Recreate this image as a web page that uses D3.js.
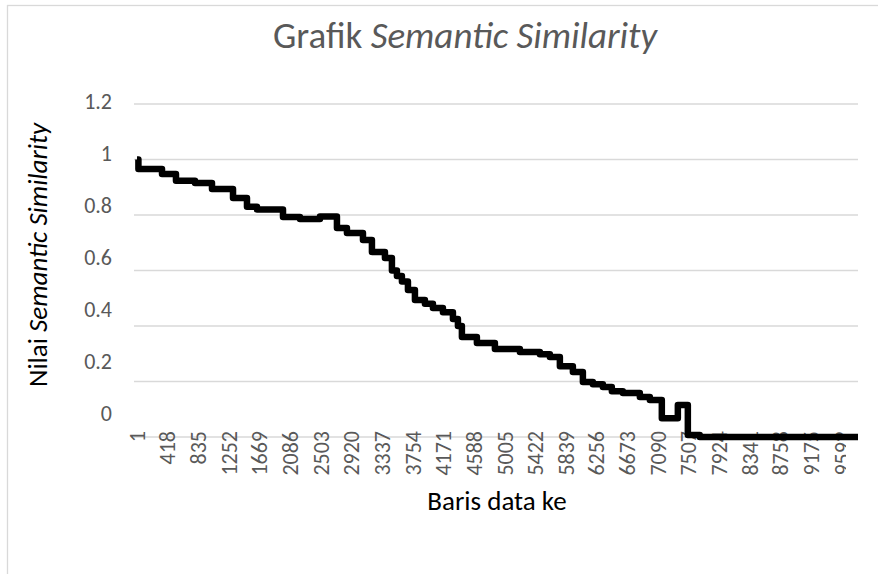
<!DOCTYPE html>
<html>
<head>
<meta charset="utf-8">
<script src="https://cdn.jsdelivr.net/npm/d3@7.9.0/dist/d3.min.js"></script>
<style>
  body { margin: 0; background: #fff; }
  svg { display: block; font-family: Carlito, "Open Sans", sans-serif; }
</style>
</head>
<body>
<svg id="chart" width="878" height="574"></svg>
<script>
// row numbers where the value changes, and the value from that row on
const rows = [1, 20, 341, 531, 790, 1021, 1307, 1497, 1633, 1987, 2218, 2490, 2721, 2857,
  3075, 3197, 3374, 3469, 3537, 3605, 3687, 3782, 3918, 4027, 4163, 4299, 4367, 4421,
  4625, 4870, 5210, 5482, 5618, 5754, 5931, 6067, 6203, 6339, 6461, 6611, 6842, 6978,
  7141, 7359, 7495, 7657, 9810];
const values = [1.0, 0.966, 0.948, 0.923, 0.915, 0.894, 0.861, 0.83, 0.82, 0.793, 0.786, 0.795,
  0.753, 0.735, 0.71, 0.667, 0.645, 0.60, 0.58, 0.56, 0.53, 0.494, 0.48, 0.465, 0.45,
  0.425, 0.40, 0.36, 0.339, 0.317, 0.306, 0.298, 0.288, 0.255, 0.234, 0.198, 0.19, 0.18,
  0.165, 0.159, 0.144, 0.133, 0.068, 0.115, 0.007, 0, 0];
const xTicks = [1, 418, 835, 1252, 1669, 2086, 2503, 2920, 3337, 3754, 4171, 4588, 5005,
  5422, 5839, 6256, 6673, 7090, 7507, 7924, 8341, 8758, 9175, 9592];
const yTicks = [0, 0.2, 0.4, 0.6, 0.8, 1, 1.2];

const data = rows.map((r, i) => ({ row: r, value: values[i] }));

const svg = d3.select('#chart');

// last category label gets cut at the right edge
svg.append('defs').append('clipPath')
    .attr('id', 'labelClip')
    .append('rect')
    .attr('x', 0).attr('y', 0)
    .attr('width', 846).attr('height', 574);

// chart area border (cut off at right/bottom)
svg.append('rect')
    .attr('x', 7.5).attr('y', 5.5)
    .attr('width', 1000).attr('height', 1000)
    .attr('fill', 'none')
    .attr('stroke', '#d9d9d9')
    .attr('stroke-width', 1.3);

const x = d3.scaleLinear().domain([-40, 9810]).range([134, 858]);
const y = d3.scaleLinear().domain([0, 1.2]).range([437, 104]);
// the value labels sit a little off the gridlines in the original
const yLabel = d3.scaleLinear().domain([0, 1.2]).range([413, 101]);

svg.append('g')
    .selectAll('line')
    .data(yTicks)
    .join('line')
    .attr('x1', 134).attr('x2', 858)
    .attr('y1', d => y(d)).attr('y2', d => y(d))
    .attr('stroke', '#d9d9d9')
    .attr('stroke-width', 1.3);

svg.append('g')
    .selectAll('text')
    .data(yTicks)
    .join('text')
    .attr('x', 112)
    .attr('y', d => yLabel(d))
    .attr('dy', '0.35em')
    .attr('text-anchor', 'end')
    .attr('fill', '#595959')
    .attr('font-size', 22)
    .text(d => d);

svg.append('g')
    .attr('clip-path', 'url(#labelClip)')
    .selectAll('text')
    .data(xTicks)
    .join('text')
    .attr('transform', d => `translate(${x(d)},431) rotate(-90)`)
    .attr('dy', '0.35em')
    .attr('text-anchor', 'end')
    .attr('fill', '#595959')
    .attr('font-size', 22)
    .text(d => d);

const line = d3.line()
    .x(d => x(d.row))
    .y(d => y(d.value))
    .curve(d3.curveStepAfter);

svg.append('path')
    .datum(data)
    .attr('d', line)
    .attr('fill', 'none')
    .attr('stroke', '#000')
    .attr('stroke-width', 6.5)
    .attr('stroke-linejoin', 'round');

// title
const title = svg.append('text')
    .attr('x', 465).attr('y', 48)
    .attr('text-anchor', 'middle')
    .attr('fill', '#595959')
    .attr('font-size', 37);
title.append('tspan').text('Grafik ');
title.append('tspan').attr('font-style', 'italic').text('Semantic Similarity');

// axis titles
const yTitle = svg.append('text')
    .attr('transform', 'translate(47,255) rotate(-90)')
    .attr('text-anchor', 'middle')
    .attr('fill', '#000')
    .attr('font-size', 27);
yTitle.append('tspan').text('Nilai ');
yTitle.append('tspan').attr('font-style', 'italic').text('Semantic Similarity');

svg.append('text')
    .attr('x', 497).attr('y', 510)
    .attr('text-anchor', 'middle')
    .attr('fill', '#000')
    .attr('font-size', 27)
    .text('Baris data ke');
</script>
</body>
</html>
